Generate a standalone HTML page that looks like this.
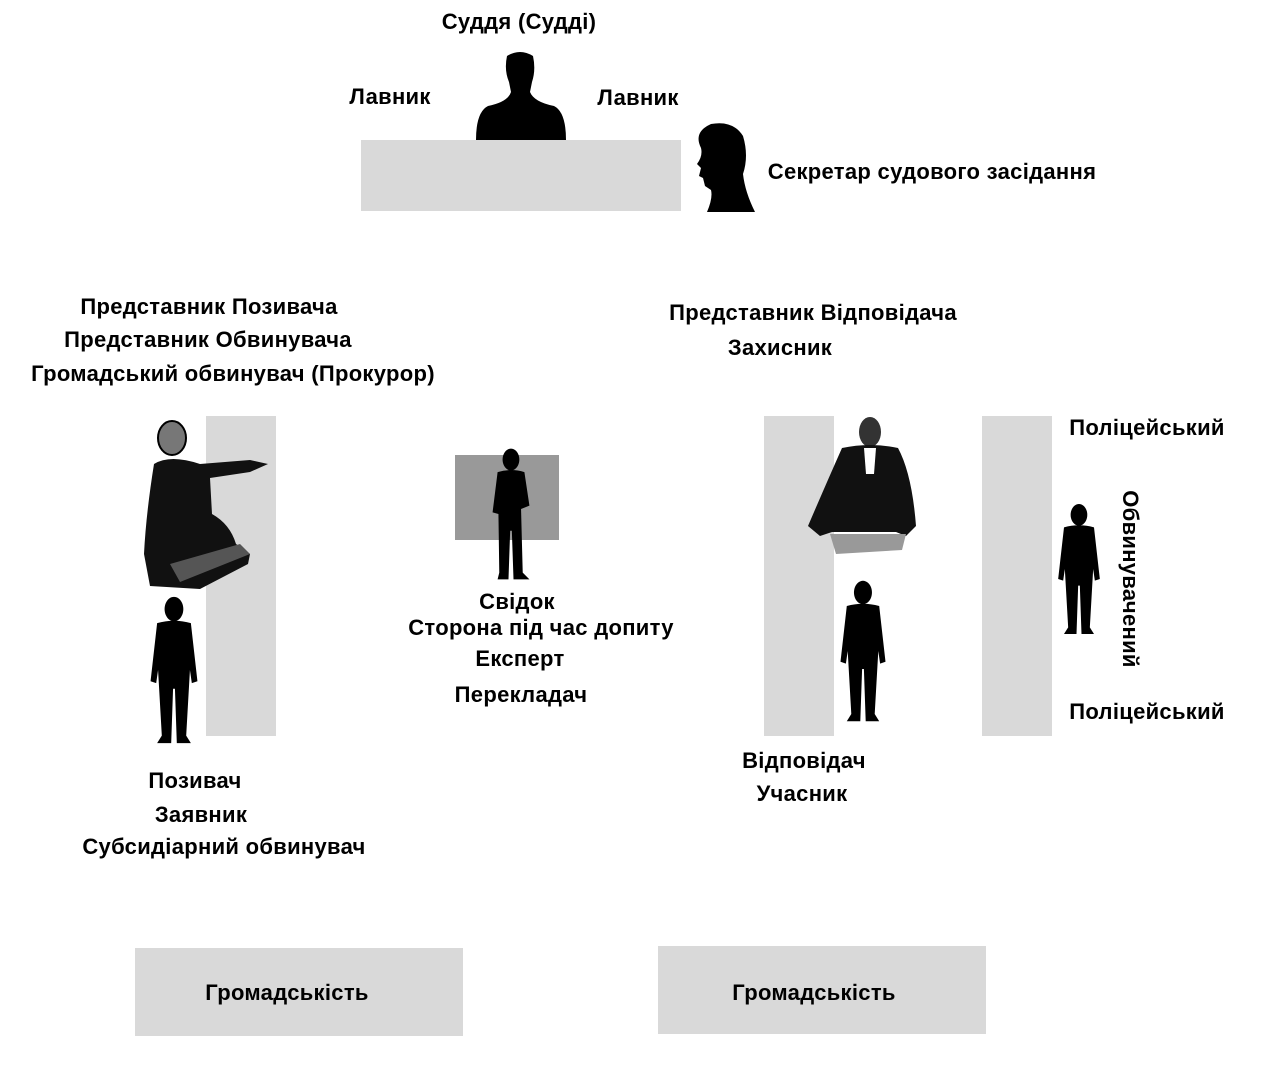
<!DOCTYPE html>
<html><head><meta charset="utf-8"><style>
body{margin:0;width:1274px;height:1066px;background:#fff;position:relative;overflow:hidden;font-family:"Liberation Sans","DejaVu Sans",sans-serif;}
.r{position:absolute;background:#d9d9d9}
.t{position:absolute;font-weight:bold;font-size:22px;color:#000;white-space:nowrap;transform:translate(-50%,-50%);letter-spacing:0.3px}
svg{position:absolute}
</style></head><body>
<div class="r" style="left:361px;top:140px;width:320px;height:71px"></div>
<div class="r" style="left:206px;top:416px;width:70px;height:320px"></div>
<div class="r" style="left:764px;top:416px;width:70px;height:320px"></div>
<div class="r" style="left:982px;top:416px;width:70px;height:320px"></div>
<div class="r" style="left:455px;top:455px;width:104px;height:85px;background:#999"></div>
<div class="r" style="left:135px;top:948px;width:328px;height:88px"></div>
<div class="r" style="left:658px;top:946px;width:328px;height:88px"></div>

<svg style="left:474px;top:48px" width="94" height="92" viewBox="0 0 94 92"><path d="M33 8 Q46 0 59 8 Q62 22 58 34 L56 44 Q60 54 80 58 Q92 64 92 92 L2 92 Q2 64 14 58 Q34 54 37 44 L35 34 Q30 22 33 8Z" fill="#000"/></svg>
<svg style="left:693px;top:120px" width="64" height="92" viewBox="0 0 64 92"><path d="M8 28 Q0 12 18 4 Q40 0 50 16 Q56 36 50 54 Q52 72 62 92 L14 92 Q20 78 18 70 L12 66 L10 58 L6 56 L8 48 L4 44 Q10 36 8 28Z" fill="#000"/></svg>

<svg style="left:144px;top:595px" width="60" height="150" viewBox="0 0 60 160"><path d="M30 2 A10 13 0 1 1 29.9 2Z M12 30 Q30 25 48 30 L55 92 L49 94 L47 80 L43 150 L48 158 L33 158 L31 100 L29 100 L27 158 L12 158 L17 150 L13 80 L11 94 L5 92Z" fill="#000"/></svg>
<svg style="left:836px;top:577px" width="54" height="148" viewBox="0 0 60 160"><path d="M30 2 A10 13 0 1 1 29.9 2Z M12 30 Q30 25 48 30 L55 92 L49 94 L47 80 L43 150 L48 158 L33 158 L31 100 L29 100 L27 158 L12 158 L17 150 L13 80 L11 94 L5 92Z" fill="#000"/></svg>
<svg style="left:1054px;top:486px" width="50" height="166" viewBox="0 0 60 160"><path d="M30 2 A10 13 0 1 1 29.9 2Z M12 30 Q30 25 48 30 L55 92 L49 94 L47 80 L43 150 L48 158 L33 158 L31 100 L29 100 L27 158 L12 158 L17 150 L13 80 L11 94 L5 92Z" fill="#000"/></svg>
<svg style="left:484px;top:447px" width="54" height="134" viewBox="0 0 60 160"><path d="M30 2 A10 13 0 1 1 29.9 2Z M14 30 Q30 25 46 30 L52 70 L42 74 L44 150 L52 158 L33 158 L31 100 L29 100 L27 158 L14 158 L16 150 L15 80 L8 78Z" fill="#000"/></svg>

<svg style="left:140px;top:414px" width="140" height="186" viewBox="0 0 140 186">
<ellipse cx="32" cy="24" rx="14" ry="17" fill="#777" stroke="#000" stroke-width="2"/>
<path d="M14 50 Q30 40 60 50 L110 46 L128 50 L110 58 L70 64 L72 100 Q90 110 96 130 L110 140 L108 150 L60 175 L10 172 L4 140 Q6 100 14 50Z" fill="#111"/>
<path d="M30 150 L100 130 L110 140 L40 168Z" fill="#555"/>
</svg>
<svg style="left:806px;top:414px" width="118" height="142" viewBox="0 0 118 142">
<ellipse cx="64" cy="18" rx="11" ry="15" fill="#333"/>
<path d="M36 34 Q64 28 92 34 Q106 60 110 112 L100 122 L90 118 L26 118 L14 122 L2 112 Q20 70 36 34Z" fill="#111"/>
<path d="M58 34 L70 34 L68 60 L60 60Z" fill="#fff"/>
<path d="M24 120 L100 120 L96 136 L30 140Z" fill="#999"/>
</svg>

<div class="t" style="left:519px;top:22px">Суддя (Судді)</div>
<div class="t" style="left:390px;top:97px">Лавник</div>
<div class="t" style="left:638px;top:98px">Лавник</div>
<div class="t" style="left:932px;top:172px">Секретар судового засідання</div>
<div class="t" style="left:209px;top:307px">Представник Позивача</div>
<div class="t" style="left:208px;top:340px">Представник Обвинувача</div>
<div class="t" style="left:233px;top:374px">Громадський обвинувач (Прокурор)</div>
<div class="t" style="left:813px;top:313px">Представник Відповідача</div>
<div class="t" style="left:780px;top:348px">Захисник</div>
<div class="t" style="left:1147px;top:428px">Поліцейський</div>
<div class="t" style="left:1147px;top:712px">Поліцейський</div>
<div class="t" style="left:1130px;top:579px;transform:translate(-50%,-50%) rotate(90deg)">Обвинувачений</div>
<div class="t" style="left:517px;top:602px">Свідок</div>
<div class="t" style="left:541px;top:628px">Сторона під час допиту</div>
<div class="t" style="left:520px;top:659px">Експерт</div>
<div class="t" style="left:521px;top:695px">Перекладач</div>
<div class="t" style="left:195px;top:781px">Позивач</div>
<div class="t" style="left:201px;top:815px">Заявник</div>
<div class="t" style="left:224px;top:847px">Субсидіарний обвинувач</div>
<div class="t" style="left:804px;top:761px">Відповідач</div>
<div class="t" style="left:802px;top:794px">Учасник</div>
<div class="t" style="left:287px;top:993px">Громадськість</div>
<div class="t" style="left:814px;top:993px">Громадськість</div>
</body></html>
